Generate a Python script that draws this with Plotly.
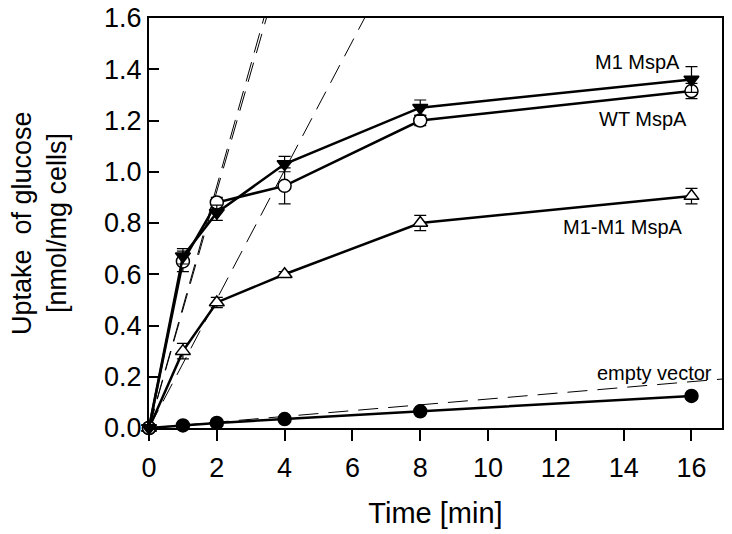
import plotly.graph_objects as go

time = [0, 1, 2, 4, 8, 16]

m1_vals = [0.0, 0.67, 0.84, 1.03, 1.25, 1.36]
m1_err = [0.0, 0.03, 0.03, 0.03, 0.03, 0.05]

wt_vals = [0.0, 0.65, 0.88, 0.945, 1.20, 1.315]
wt_err = [0.0, 0.04, 0.02, 0.07, 0.02, 0.03]

m1m1_vals = [0.0, 0.30, 0.49, 0.60, 0.80, 0.905]
m1m1_err = [0.0, 0.03, 0.02, 0.01, 0.03, 0.03]

empty_vals = [0.0, 0.01, 0.02, 0.035, 0.065, 0.125]
empty_err = [0.0, 0.0, 0.0, 0.0, 0.0, 0.0]

# initial-rate fit slopes (nmol/mg cells per min)
fit_slopes = [0.472, 0.462, 0.2516, 0.0113]

x_range = [0, 16.9]
y_range = [0, 1.6]
x_ticks = [0, 2, 4, 6, 8, 10, 12, 14, 16]
y_ticks = [0.0, 0.2, 0.4, 0.6, 0.8, 1.0, 1.2, 1.4, 1.6]
y_ticklabels = ["0.0", "0.2", "0.4", "0.6", "0.8", "1.0", "1.2", "1.4", "1.6"]

labels = ["M1 MspA", "WT MspA", "M1-M1 MspA", "empty vector"]
label_x = [15.73, 15.94, 15.82, 14.9]
label_y = [1.43, 1.205, 0.785, 0.215]

FONT = "Liberation Sans, Arial, sans-serif"

fig = go.Figure()

# dashed fit lines
for s in fit_slopes:
    fig.add_trace(go.Scatter(
        x=[0, x_range[1]], y=[0, s * x_range[1]], mode="lines",
        line=dict(color="black", width=1, dash="20px,10px"),
        hoverinfo="skip", showlegend=False))

def series(vals, err, symbol, fill):
    return go.Scatter(
        x=time, y=vals, mode="lines+markers",
        line=dict(color="black", width=2.5),
        marker=dict(symbol=symbol, size=13,
                    color="black" if fill else "white",
                    line=dict(color="black", width=1.5)),
        error_y=dict(type="data", array=err, visible=True,
                     color="black", thickness=1.2, width=6),
        cliponaxis=False, showlegend=False)

fig.add_trace(series(empty_vals, empty_err, "circle", True))
fig.add_trace(series(m1m1_vals, m1m1_err, "triangle-up", False))
fig.add_trace(series(wt_vals, wt_err, "circle", False))
fig.add_trace(series(m1_vals, m1_err, "triangle-down", True))

for t, x, y in zip(labels, label_x, label_y):
    fig.add_annotation(x=x, y=y, text=t, showarrow=False,
                       xanchor="right" if t != "empty vector" else "center",
                       yanchor="middle", font=dict(family=FONT, size=20, color="black"))

# y-axis title, two lines
fig.add_annotation(xref="paper", yref="paper", x=-0.2216, y=0.5, text="Uptake  of glucose",
                   textangle=-90, showarrow=False, xanchor="center", yanchor="middle",
                   font=dict(family=FONT, size=27, color="black"))
fig.add_annotation(xref="paper", yref="paper", x=-0.1606, y=0.5, text="[nmol/mg cells]",
                   textangle=-90, showarrow=False, xanchor="center", yanchor="middle",
                   font=dict(family=FONT, size=27, color="black"))

fig.update_layout(
    width=732, height=534,
    margin=dict(l=149, r=10, t=18, b=106, autoexpand=False),
    paper_bgcolor="white", plot_bgcolor="white",
    font=dict(family=FONT, color="black"),
    hovermode=False,
    xaxis=dict(range=x_range, tickvals=x_ticks, ticks="outside", ticklen=11, tickwidth=2,
               tickcolor="black", showline=True, linecolor="black", linewidth=2, mirror=True,
               showgrid=False, zeroline=False, tickfont=dict(size=27), automargin=False,
               ticklabelstandoff=4, ticklabeloverflow="allow",
               title=dict(text="Time [min]", font=dict(size=29), standoff=20)),
    yaxis=dict(range=y_range, tickvals=y_ticks, ticktext=y_ticklabels, ticks="inside",
               ticklen=10, tickwidth=2, tickcolor="black", showline=True, linecolor="black",
               linewidth=2, mirror=True, showgrid=False, zeroline=False, automargin=False,
               ticklabeloverflow="allow", tickfont=dict(size=27)),
)

fig.write_html(
    "out.html",
    config={"displayModeBar": False, "staticPlot": True},
    post_script="document.body.style.margin='0';document.body.style.overflow='hidden';",
)
